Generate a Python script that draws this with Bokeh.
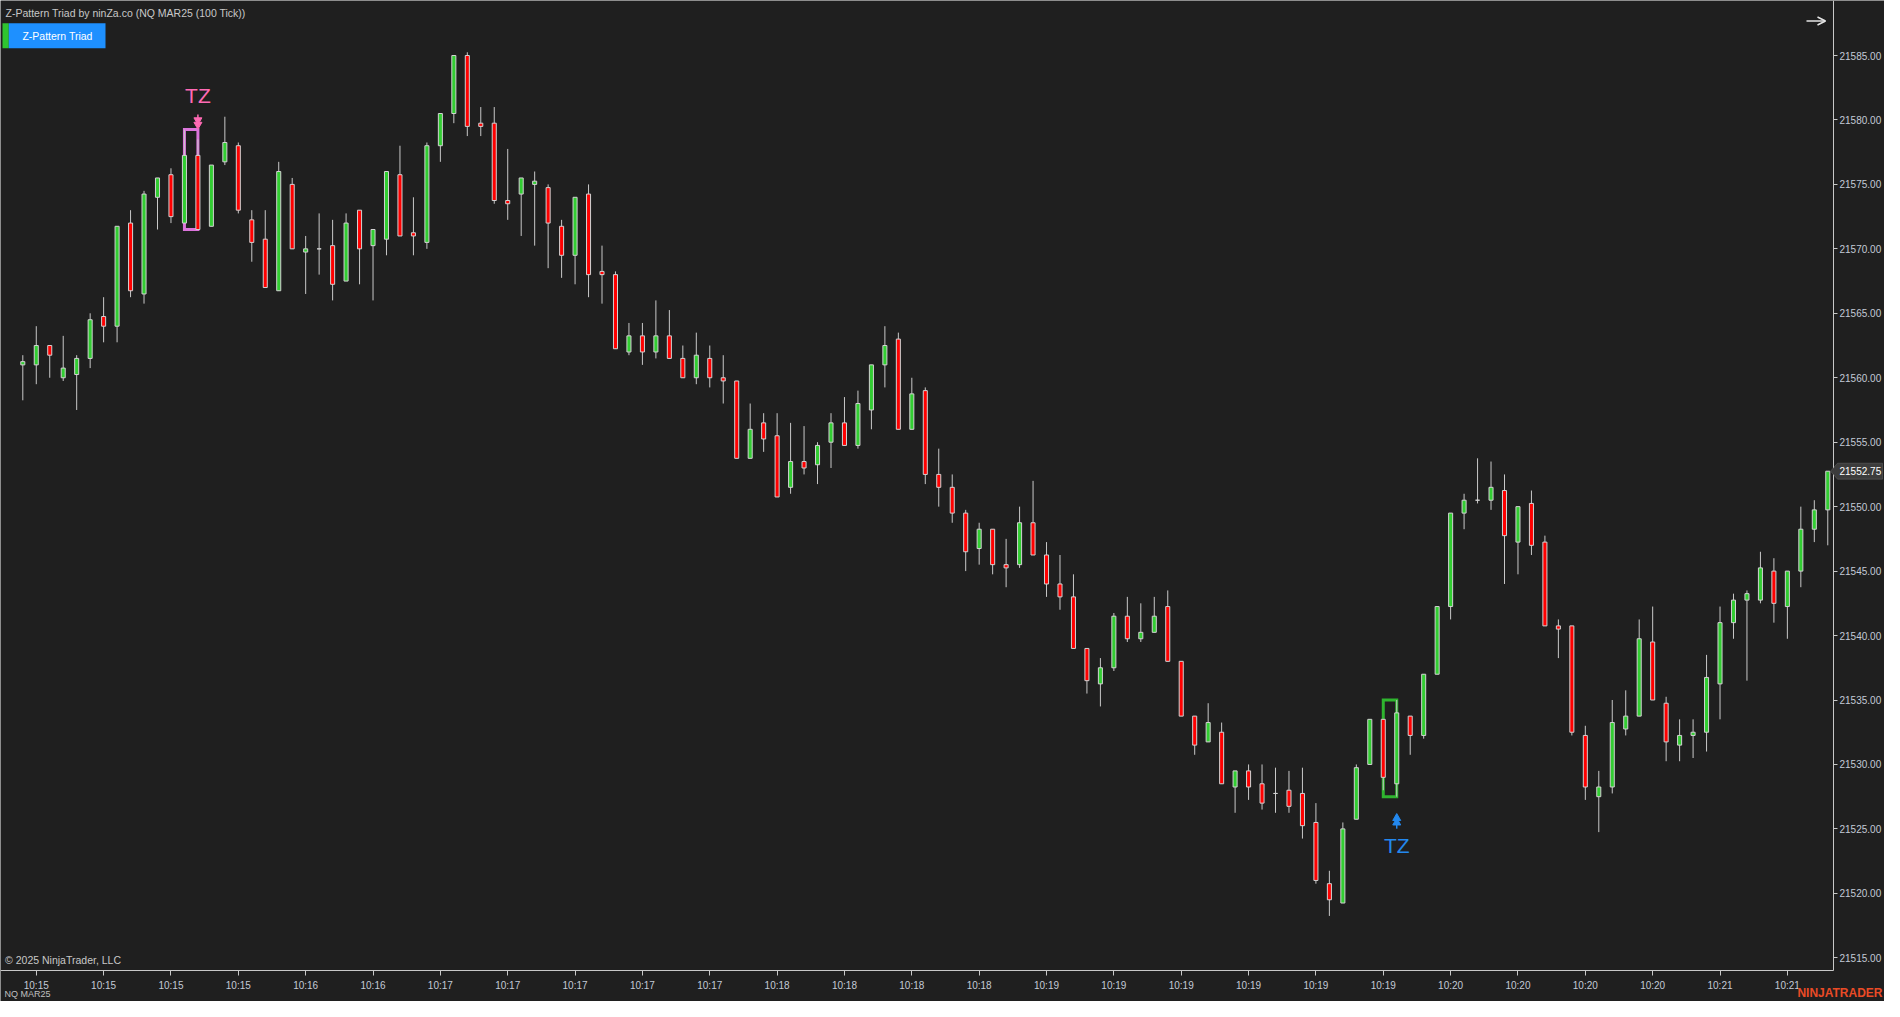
from bokeh.plotting import figure
from bokeh.models import (ColumnDataSource, FixedTicker, PrintfTickFormatter, Label,
                          BoxAnnotation, Arrow, OpenHead, PolyAnnotation, Range1d)
from bokeh.embed import file_html
from bokeh.resources import INLINE

# ---------------- data (NQ MAR25, 100 tick bars) ----------------
opens = [21561.0, 21561.0, 21562.5, 21560.0, 21560.25, 21561.5, 21564.75, 21564.0, 21572.0, 21566.5,
         21574.0, 21575.75, 21572.0, 21577.25, 21571.75, 21576.75, 21578.0, 21572.25, 21570.75, 21566.75,
         21575.0, 21569.75, 21570.0, 21570.25, 21567.5, 21573.0, 21570.25, 21570.75, 21575.75, 21571.25,
         21570.5, 21578.0, 21580.5, 21585.0, 21579.75, 21579.75, 21573.75, 21574.25, 21575.0, 21574.75,
         21571.75, 21569.5, 21574.25, 21568.25, 21568.0, 21562.0, 21563.25, 21562.0, 21563.25, 21561.5,
         21560.0, 21561.5, 21560.0, 21559.75, 21553.75, 21556.5, 21555.5, 21551.5, 21553.5, 21553.25,
         21555.0, 21556.5, 21554.75, 21557.5, 21561.0, 21563.0, 21556.0, 21559.0, 21552.5, 21551.5,
         21549.5, 21546.75, 21548.25, 21545.5, 21545.5, 21548.75, 21546.25, 21544.0, 21543.0, 21539.0,
         21536.25, 21537.5, 21541.5, 21539.75, 21540.25, 21542.25, 21538.0, 21533.75, 21531.75, 21532.5,
         21528.25, 21529.5, 21528.5, 21527.75, 21528.0, 21527.75, 21525.5, 21520.75, 21519.25, 21525.75,
         21530.0, 21533.5, 21528.5, 21533.75, 21532.25, 21537.0, 21542.25, 21549.5, 21550.5, 21550.5,
         21551.25, 21547.25, 21550.25, 21547.25, 21540.75, 21540.75, 21532.25, 21527.5, 21528.25, 21532.75,
         21533.75, 21539.5, 21534.75, 21531.5, 21532.25, 21532.5, 21536.25, 21541.0, 21542.75, 21542.75,
         21545.0, 21542.25, 21545.0, 21548.25, 21549.75]
highs = [21561.75, 21564.0, 21562.5, 21563.25, 21561.75, 21565.0, 21566.25, 21571.75, 21573.0, 21574.5,
         21575.5, 21576.25, 21579.25, 21578.5, 21576.5, 21580.25, 21578.25, 21573.0, 21573.0, 21576.75,
         21575.5, 21571.0, 21572.75, 21572.25, 21572.75, 21573.0, 21571.5, 21576.0, 21578.0, 21574.0,
         21578.25, 21580.5, 21585.0, 21585.25, 21581.0, 21581.0, 21577.75, 21575.5, 21576.0, 21575.0,
         21572.25, 21574.0, 21575.0, 21570.25, 21568.25, 21564.25, 21564.25, 21566.0, 21565.25, 21562.5,
         21563.5, 21562.5, 21561.75, 21559.75, 21558.0, 21557.25, 21557.25, 21556.5, 21556.25, 21555.0,
         21557.25, 21558.5, 21559.0, 21561.0, 21564.0, 21563.5, 21560.0, 21559.25, 21554.5, 21552.5,
         21549.75, 21548.75, 21548.25, 21547.5, 21550.0, 21552.0, 21547.25, 21546.25, 21544.75, 21539.0,
         21538.25, 21541.75, 21543.0, 21542.5, 21543.0, 21543.5, 21538.0, 21533.75, 21534.75, 21533.25,
         21529.5, 21530.0, 21530.0, 21529.75, 21529.5, 21529.75, 21527.0, 21521.75, 21525.5, 21530.0,
         21533.5, 21533.5, 21535.0, 21533.75, 21537.0, 21542.25, 21549.5, 21551.0, 21553.75, 21553.5,
         21552.5, 21550.0, 21551.25, 21547.75, 21541.25, 21540.75, 21533.0, 21529.5, 21535.0, 21535.75,
         21541.25, 21542.25, 21535.25, 21533.5, 21533.5, 21538.5, 21542.25, 21543.25, 21543.5, 21546.5,
         21546.0, 21545.0, 21550.0, 21550.5, 21552.75]
lows = [21558.25, 21559.5, 21560.0, 21559.75, 21557.5, 21560.75, 21562.75, 21562.75, 21566.25, 21565.75,
        21571.5, 21572.0, 21572.0, 21571.5, 21571.75, 21576.5, 21572.75, 21569.0, 21567.0, 21566.75,
        21570.0, 21566.5, 21568.0, 21566.0, 21567.5, 21567.25, 21566.0, 21569.5, 21571.0, 21569.5,
        21570.0, 21576.75, 21579.75, 21578.75, 21578.75, 21573.5, 21572.25, 21571.0, 21570.25, 21568.5,
        21567.75, 21567.25, 21566.25, 21565.75, 21562.25, 21561.75, 21561.0, 21561.5, 21561.5, 21560.0,
        21559.5, 21559.25, 21558.0, 21553.75, 21553.75, 21554.25, 21550.75, 21551.0, 21552.5, 21551.75,
        21553.0, 21554.75, 21554.5, 21556.0, 21559.25, 21556.0, 21556.0, 21551.75, 21550.0, 21548.75,
        21545.0, 21545.5, 21544.75, 21543.75, 21545.25, 21546.25, 21543.0, 21542.0, 21539.0, 21535.5,
        21534.5, 21537.25, 21539.5, 21539.5, 21540.25, 21538.0, 21533.75, 21530.75, 21531.75, 21528.5,
        21526.25, 21527.25, 21526.5, 21526.25, 21526.25, 21524.25, 21520.75, 21518.25, 21519.25, 21525.75,
        21530.0, 21528.0, 21527.5, 21530.75, 21532.0, 21537.0, 21541.25, 21548.25, 21550.25, 21549.75,
        21544.0, 21544.75, 21546.25, 21540.75, 21538.25, 21532.25, 21527.25, 21524.75, 21527.75, 21532.25,
        21533.75, 21535.0, 21530.25, 21530.25, 21530.5, 21531.0, 21533.5, 21539.75, 21536.5, 21542.5,
        21541.0, 21539.75, 21543.75, 21547.25, 21547.0]
closes = [21561.25, 21562.5, 21561.75, 21560.75, 21561.5, 21564.5, 21564.0, 21571.75, 21566.75, 21574.25,
          21575.5, 21572.5, 21577.25, 21571.5, 21576.5, 21578.25, 21573.0, 21570.5, 21567.0, 21576.0,
          21570.0, 21570.0, 21570.0, 21567.25, 21572.0, 21570.0, 21571.5, 21576.0, 21571.0, 21571.0,
          21578.0, 21580.5, 21585.0, 21579.5, 21579.5, 21573.75, 21573.5, 21575.5, 21575.25, 21572.0,
          21569.5, 21574.0, 21568.0, 21568.0, 21562.25, 21563.25, 21562.0, 21563.25, 21561.5, 21560.0,
          21561.75, 21560.0, 21559.75, 21553.75, 21556.0, 21555.25, 21550.75, 21553.5, 21553.0, 21554.75,
          21556.5, 21554.75, 21558.0, 21561.0, 21562.5, 21556.0, 21558.75, 21552.5, 21551.5, 21549.5,
          21546.5, 21548.25, 21545.5, 21545.25, 21548.75, 21546.25, 21544.0, 21543.0, 21539.0, 21536.5,
          21537.5, 21541.5, 21539.75, 21540.25, 21541.5, 21538.0, 21533.75, 21531.5, 21533.25, 21528.5,
          21529.5, 21528.25, 21527.0, 21527.75, 21526.75, 21525.25, 21521.0, 21519.5, 21525.0, 21529.75,
          21533.5, 21529.0, 21534.0, 21532.25, 21537.0, 21542.25, 21549.5, 21550.5, 21550.5, 21551.5,
          21547.75, 21550.0, 21547.0, 21540.75, 21540.5, 21532.5, 21528.25, 21528.25, 21533.25, 21533.75,
          21539.75, 21535.0, 21531.75, 21532.25, 21532.5, 21536.75, 21541.0, 21542.75, 21543.25, 21545.25,
          21542.5, 21545.0, 21548.25, 21549.75, 21552.75]

x_tick_bars = [1, 6, 11, 16, 21, 26, 31, 36, 41, 46, 51, 56, 61, 66, 71, 76, 81, 86, 91, 96,
               101, 106, 111, 116, 121, 126, 131]
x_tick_labels = ["10:15", "10:15", "10:15", "10:15", "10:16", "10:16", "10:17", "10:17", "10:17",
                 "10:17", "10:17", "10:18", "10:18", "10:18", "10:18", "10:19", "10:19", "10:19",
                 "10:19", "10:19", "10:19", "10:20", "10:20", "10:20", "10:20", "10:21", "10:21"]
y_ticks = [21515, 21520, 21525, 21530, 21535, 21540, 21545, 21550, 21555, 21560, 21565, 21570,
           21575, 21580, 21585]

tz_bear_bars = [12, 13]     # pink Z-pattern (signal above)
tz_bull_bars = [101, 102]   # green Z-pattern (signal below)
last_price = 21552.75

# ---------------- layout helpers (canvas px -> data) ----------------
W, H = 1884, 1001
PX_BAR = 13.47
X0 = 22.3
PX_PT = 12.89
Y_REF_PX, Y_REF = 441.7, 21555.0
AXIS_X = 1833      # price axis line (px)
AXIS_Y = 970       # time axis line (px)


def xd(px):
    return (px - X0) / PX_BAR


def yd(py):
    return Y_REF - (py - Y_REF_PX) / PX_PT


def dpx(n):
    return n / PX_PT


BG = "#1f1f1f"
GREEN = "#32cd32"
RED = "#ff0000"
WICK = "#c8c8c8"
AXIS = "#c8c8c8"
TICK_TXT = "#c3cad6"
FONT = "Liberation Sans"

p = figure(width=W, height=H,
           x_range=Range1d(xd(0), xd(W)), y_range=Range1d(yd(H), yd(0)),
           output_backend="svg", toolbar_location=None, y_axis_location="right",
           background_fill_color=BG, border_fill_color=BG, min_border=0,
           min_border_left=0, min_border_top=0, min_border_right=0, min_border_bottom=0)
p.outline_line_color = None
p.grid.visible = False

# axes (drawn at fixed positions inside the canvas)
p.yaxis.ticker = FixedTicker(ticks=y_ticks)
p.yaxis.formatter = PrintfTickFormatter(format="%.2f")
p.yaxis.fixed_location = xd(AXIS_X)
p.yaxis.bounds = (yd(AXIS_Y), yd(0))
p.xaxis.ticker = FixedTicker(ticks=x_tick_bars)
p.xaxis.major_label_overrides = {b: t for b, t in zip(x_tick_bars, x_tick_labels)}
p.xaxis.fixed_location = yd(AXIS_Y)
p.xaxis.bounds = (xd(0), xd(AXIS_X))
for ax in (p.xaxis, p.yaxis):
    ax.axis_line_color = AXIS
    ax.axis_line_width = 1
    ax.major_tick_line_color = AXIS
    ax.major_tick_in = 0
    ax.minor_tick_line_color = None
    ax.major_label_text_color = TICK_TXT
    ax.major_label_text_font = FONT
p.yaxis.major_tick_out = 4
p.yaxis.major_label_standoff = 2
p.yaxis.major_label_text_font_size = "10px"
p.xaxis.major_tick_out = 5
p.xaxis.major_label_standoff = 4
p.xaxis.major_label_text_font_size = "10px"

# ---------------- pattern boxes (under candles) ----------------
def box(bars, color):
    lo = min(lows[i] for i in bars)
    hi = max(highs[i] for i in bars)
    p.quad(left=[bars[0]], right=[bars[-1]], bottom=[lo], top=[hi], fill_color=None,
           line_color=color, line_width=3, line_join="miter")
    return lo, hi


bear_lo, bear_hi = box(tz_bear_bars, "#dc74dc")
bull_lo, bull_hi = box(tz_bull_bars, "#2fb52f")

# ---------------- candles ----------------
n = len(opens)
xs = list(range(n))
src = ColumnDataSource(dict(
    x=xs, o=opens, h=highs, l=lows, c=closes,
    top=[max(o, c) for o, c in zip(opens, closes)],
    bottom=[min(o, c) for o, c in zip(opens, closes)],
    color=[GREEN if c >= o else RED for o, c in zip(opens, closes)],
))
p.segment(x0="x", y0="h", x1="x", y1="l", line_color=WICK, line_width=1, source=src)
p.vbar(x="x", width=0.3, top="top", bottom="bottom", fill_color="color",
       line_color="#d2d2d2", line_width=1, source=src)

# ---------------- TZ markers ----------------
PINK = "#ff6ab4"
BLUE = "#2388ee"
bx = tz_bear_bars[-1]
p.segment(x0=[bx], x1=[bx], y0=[bear_hi + dpx(11)], y1=[bear_hi + dpx(15)],
          line_color=PINK, line_width=1.5)
p.scatter(x=[bx, bx], y=[bear_hi + dpx(9.5), bear_hi + dpx(5)], marker="inverted_triangle",
          size=8, fill_color=PINK, line_color=PINK)
p.add_layout(Label(x=bx, y=bear_hi + dpx(34.5), text="TZ", text_align="center",
                   text_baseline="middle", text_font=FONT, text_font_size="21px",
                   text_color=PINK))

ux = tz_bull_bars[-1]
p.segment(x0=[ux], x1=[ux], y0=[bull_lo - dpx(26)], y1=[bull_lo - dpx(32)],
          line_color=BLUE, line_width=1.5)
p.scatter(x=[ux, ux], y=[bull_lo - dpx(21.5), bull_lo - dpx(26)], marker="triangle",
          size=8, fill_color=BLUE, line_color=BLUE)
p.add_layout(Label(x=ux, y=bull_lo - dpx(49), text="TZ", text_align="center",
                   text_baseline="middle", text_font=FONT, text_font_size="21px",
                   text_color=BLUE))

# ---------------- chart decorations ----------------
p.add_layout(Label(x=xd(5), y=yd(12), text="Z-Pattern Triad by ninZa.co (NQ MAR25 (100 Tick))",
                   text_baseline="middle", text_font=FONT, text_font_size="10.5px",
                   text_color="#c8c8c8"))
p.add_layout(BoxAnnotation(left=xd(2), right=xd(8.3), top=yd(22.7), bottom=yd(47.7),
                           fill_color="#2fc42f", fill_alpha=1, line_color=None))
p.add_layout(BoxAnnotation(left=xd(8.3), right=xd(105), top=yd(22.7), bottom=yd(47.7),
                           fill_color="#1e90ff", fill_alpha=1, line_color=None))
p.add_layout(Label(x=xd(57), y=yd(35.2), text="Z-Pattern Triad", text_align="center",
                   text_baseline="middle", text_font=FONT, text_font_size="10.5px",
                   text_color="white"))
p.add_layout(Label(x=xd(4.6), y=yd(959.7), text="\u00a9 2025 NinjaTrader, LLC",
                   text_baseline="middle", text_font=FONT, text_font_size="10.5px",
                   text_color="#c8c8c8"))
p.add_layout(Label(x=xd(4), y=yd(993), text="NQ MAR25", text_baseline="middle",
                   text_font=FONT, text_font_size="9px", text_color="#c0c0c0"))
p.add_layout(Label(x=xd(1882), y=yd(992.5), text="NINJATRADER", text_align="right",
                   text_baseline="middle", text_font=FONT, text_font_size="12px",
                   text_font_style="bold", text_color="#ea4b26"))
p.add_layout(Arrow(end=OpenHead(size=8, line_color="#e6e6e6", line_width=1.5),
                   x_start=xd(1806), y_start=yd(20.5), x_end=xd(1825), y_end=yd(20.5),
                   line_color="#e6e6e6", line_width=1.5))

# last price marker on the price axis
lp_px = Y_REF_PX - (last_price - Y_REF) * PX_PT
p.add_layout(PolyAnnotation(
    xs=[xd(AXIS_X - 3), xd(AXIS_X + 4), xd(W - 2), xd(W - 2), xd(AXIS_X + 4)],
    ys=[yd(lp_px), yd(lp_px - 8), yd(lp_px - 8), yd(lp_px + 8), yd(lp_px + 8)],
    fill_color="#3c3c3c", fill_alpha=1, line_color="#8a8a8a", line_width=1))
p.add_layout(Label(x=xd(AXIS_X + 6), y=last_price, text="21552.75", text_baseline="middle",
                   text_font=FONT, text_font_size="10px", text_color="white"))

open("out.html", "w").write(file_html(p, INLINE))
